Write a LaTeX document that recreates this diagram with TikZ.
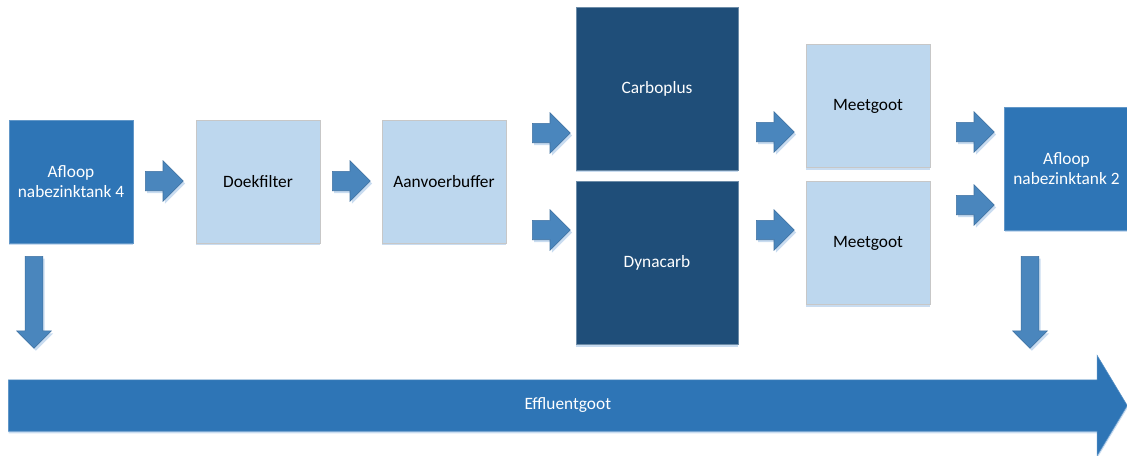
\documentclass[tikz,border=0pt]{standalone}
\usepackage{fontspec}
\setmainfont{Carlito}
\usetikzlibrary{positioning,calc,shapes.arrows,shadows}

\definecolor{midblue}{HTML}{2E75B6}
\definecolor{lightblue}{HTML}{BDD7EE}
\definecolor{darkblue}{HTML}{1F4E79}
\definecolor{arrowblue}{HTML}{4A86BD}
\definecolor{arrowline}{HTML}{3E70A0}
\definecolor{shadowblue}{HTML}{C9DCF0}

\begin{document}
\begin{tikzpicture}[x=0.75pt,y=-0.75pt,
    box/.style={rectangle, inner sep=0pt, align=center, minimum width=93pt, minimum height=92.25pt,
      font=\fontsize{13}{15.5}\selectfont, line width=0.4pt,
      drop shadow={shadow xshift=0.3pt, shadow yshift=-1.6pt, fill=shadowblue, opacity=1}},
    midbox/.style={box, fill=midblue, draw=midblue!75!white, text=white},
    lightbox/.style={box, fill=lightblue, draw=black!22, text=black},
    darkbox/.style={box, fill=darkblue, draw=darkblue!65!white, text=white,
      minimum width=121.5pt, minimum height=122.25pt},
    flow/.style={single arrow, anchor=tail, inner sep=7.1pt, single arrow head extend=7.9pt, minimum height=28.5pt,
      fill=arrowblue, draw=arrowline, line width=0.4pt,
      drop shadow={shadow xshift=1.4pt, shadow yshift=-1.8pt, fill=shadowblue, opacity=1}},
    flowdown/.style={flow, shape border rotate=270, inner sep=6.4pt, single arrow head extend=6.4pt,
      minimum height=69pt},
    bigflow/.style={single arrow, anchor=tail, inner sep=19.1pt, single arrow head extend=18.4pt, single arrow tip angle=118,
      minimum height=839.25pt, fill=midblue, draw=midblue!80!white, line width=0.4pt,
      drop shadow={shadow xshift=0.3pt, shadow yshift=-1.6pt, fill=shadowblue, opacity=1}}]
  \useasboundingbox (0,0) rectangle (1127,455);

  % Effluent gutter
  \node[bigflow] (effl) at (8,405.5) {};
  \node[font=\fontsize{13}{15.5}\selectfont, text=white] (efflt) at ($(effl.tail)!0.5!(effl.tip)$) {Effluentgoot};

  % Boxes
  \node[midbox] (afl4) at (71,181.5) {Afloop\\nabezinktank 4};
  \node[lightbox] (doek) at (258,181.5) {Doekfilter};
  \node[lightbox] (buffer) at (444,181.5) {Aanvoerbuffer};
  \node[darkbox] (carbo) at (657,88.5) {Carboplus};
  \node[darkbox] (dyna) at (657,263) {Dynacarb};
  \node[lightbox] (meet1) at (868,106) {Meetgoot};
  \node[lightbox] (meet2) at (868,243) {Meetgoot};
  \node[midbox] (afl2) at (1066.5,168.5) {Afloop\\nabezinktank 2};

  % Flow arrows (tail positions)
  \foreach \x/\y/\name in {145/181/a1, 332/181/a2, 532/133/a3, 532/230/a4,
                           756/132/a5, 756/230/a6, 956/132/a7, 956/205/a8} {
    \node[flow] (\name) at (\x,\y) {};
  }
  \node[flowdown] (d1) at (34,256) {};   % to effluent
  \node[flowdown] (d2) at (1030,256) {}; % to effluent
\end{tikzpicture}
\end{document}
